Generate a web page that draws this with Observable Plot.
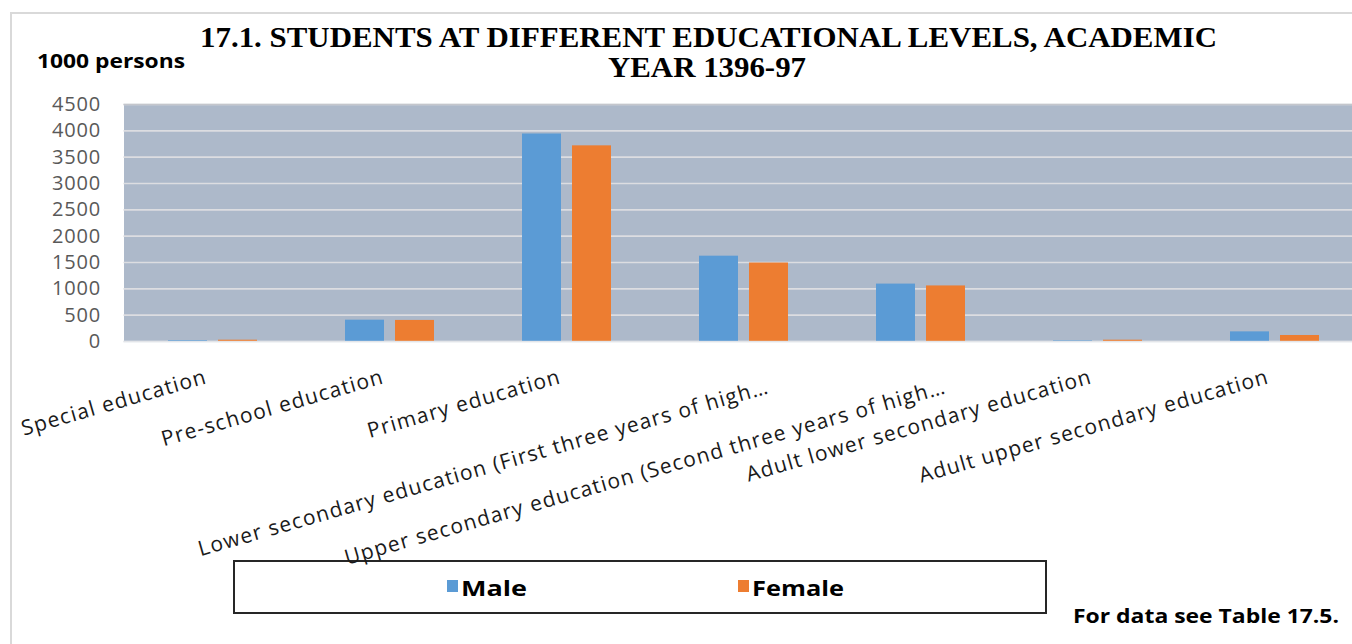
<!DOCTYPE html>
<html><head><meta charset="utf-8">
<script src="https://cdn.jsdelivr.net/npm/d3@7"></script>
<script src="https://cdn.jsdelivr.net/npm/@observablehq/plot@0.6"></script>
<style>
html,body{margin:0;padding:0;background:#fff;overflow:hidden;width:1352px;height:644px}
#wrap{position:relative;width:1352px;height:644px;overflow:hidden}
.abs{position:absolute;white-space:nowrap;transform-origin:0 0}
#border{position:absolute;left:10px;top:12px;width:1400px;height:700px;border-left:2px solid #d9d9d9;border-top:2px solid #d9d9d9;box-sizing:border-box}
.title{font-family:"Liberation Serif",serif;font-weight:bold;font-size:29px;line-height:29px;color:#000}
.sans{font-family:"Open Sans",sans-serif;font-weight:bold;color:#000}
#chart{position:absolute;left:0;top:0;width:1365px;z-index:2}
#chart svg{max-width:none !important;width:1365px !important;height:560px !important}
#chart g[aria-label="text"] text{letter-spacing:1.2px}
#chart g[aria-label="y-axis tick label"] text{letter-spacing:0.8px}
#legend{position:absolute;left:233px;top:560px;width:814px;height:54px;border:2px solid #262626;box-sizing:border-box;background:transparent;z-index:1}
.sw{position:absolute;width:11px;height:12px}
</style></head>
<body><div id="wrap">
<div id="border"></div>
<div id="legend"></div>
<div id="chart"></div>
<div class="abs title" id="t1">17.1. STUDENTS AT DIFFERENT EDUCATIONAL LEVELS, ACADEMIC</div>
<div class="abs title" id="t2">YEAR 1396-97</div>
<div class="abs sans" id="unit" style="font-size:20px;line-height:20px">1000 persons</div>
<div class="abs sans" id="note" style="font-size:20px;line-height:20px">For data see Table 17.5.</div>
</div>
<script>
const categories = [
  "Special education",
  "Pre-school education",
  "Primary education",
  "Lower secondary education (First three years of high…",
  "Upper secondary education (Second three years of high…",
  "Adult lower secondary education",
  "Adult upper secondary education"
];
const male   = [15, 405, 3940, 1620, 1090, 12, 183];
const female = [25, 400, 3715, 1490, 1055, 25, 114];
const yTicks = [0, 500, 1000, 1500, 2000, 2500, 3000, 3500, 4000, 4500];
const seriesNames = ["Male", "Female"];
const seriesColors = ["#5b9bd5", "#ed7d31"];

const maleRows = categories.map((c, i) => ({category: c, value: male[i]}));
const femaleRows = categories.map((c, i) => ({category: c, value: female[i]}));
const shortLabels = categories.filter(c => !c.endsWith("…"));
const longLabels = categories.filter(c => c.endsWith("…"));

const chart = Plot.plot({
  width: 1365,
  height: 560,
  marginLeft: 123.5,
  marginRight: 2.5,
  marginTop: 104,
  marginBottom: 219,
  style: {background: "transparent", overflow: "visible"},
  x: {domain: categories, paddingInner: 0, paddingOuter: 0, axis: null},
  y: {domain: [0, 4500], axis: null},
  marks: [
    Plot.frame({fill: "#adb9ca", stroke: null}),
    Plot.ruleY(yTicks, {stroke: "#dcdde1", strokeWidth: 1.6}),
    Plot.ruleY([4500], {stroke: "#c4c6cc", strokeWidth: 1.6}),
    Plot.barY(maleRows, {x: "category", y: "value", fill: seriesColors[0], insetLeft: 44, insetRight: 94}),
    Plot.barY(femaleRows, {x: "category", y: "value", fill: seriesColors[1], insetLeft: 94, insetRight: 44}),
    Plot.ruleY([0], {stroke: "#e6e8ec", strokeWidth: 1.6, strokeOpacity: 0.7}),
    Plot.axisY(yTicks, {anchor: "left", label: null, tickSize: 0, tickPadding: 23, tickFormat: d => String(d),
      fontSize: 20, fill: "#595959", fontFamily: "Open Sans"}),
    Plot.text(shortLabels, {x: d => d, text: d => d, frameAnchor: "bottom", rotate: -16,
      textAnchor: "end", lineAnchor: "top", dx: -9, dy: 27, fontSize: 21, fill: "#1a1a1a", fontFamily: "Open Sans"}),
    Plot.text(longLabels, {x: d => d, text: d => d, frameAnchor: "bottom", rotate: -16,
      textAnchor: "end", lineAnchor: "top", dx: 22, dy: 37, fontSize: 21, fill: "#1a1a1a", fontFamily: "Open Sans"})
  ]
});
document.getElementById("chart").appendChild(chart);

// legend
const legend = document.getElementById("legend");
const legendPos = [[212, 226, 66], [503, 517, 92]];
seriesNames.forEach((name, i) => {
  const sw = document.createElement("div");
  sw.className = "sw";
  sw.style.background = seriesColors[i];
  sw.style.left = legendPos[i][0] + "px";
  sw.style.top = "18px";
  legend.appendChild(sw);
  const t = document.createElement("div");
  t.className = "abs sans";
  t.id = "leg" + i;
  t.textContent = name;
  t.style.fontSize = "22px";
  t.style.lineHeight = "22px";
  legend.appendChild(t);
});

function fit(id, left, top, w) {
  const el = document.getElementById(id);
  el.style.left = left + "px";
  el.style.top = top + "px";
  const s = w / el.getBoundingClientRect().width;
  el.style.transform = "scaleX(" + s + ")";
}
fit("t1", 200, 23, 1017);
fit("t2", 608, 53, 198);
fit("unit", 37, 51, 148);
fit("note", 1073, 606, 266);
fit("leg0", 226, 14, 66);
fit("leg1", 517, 14, 92);
</script>
</body></html>
